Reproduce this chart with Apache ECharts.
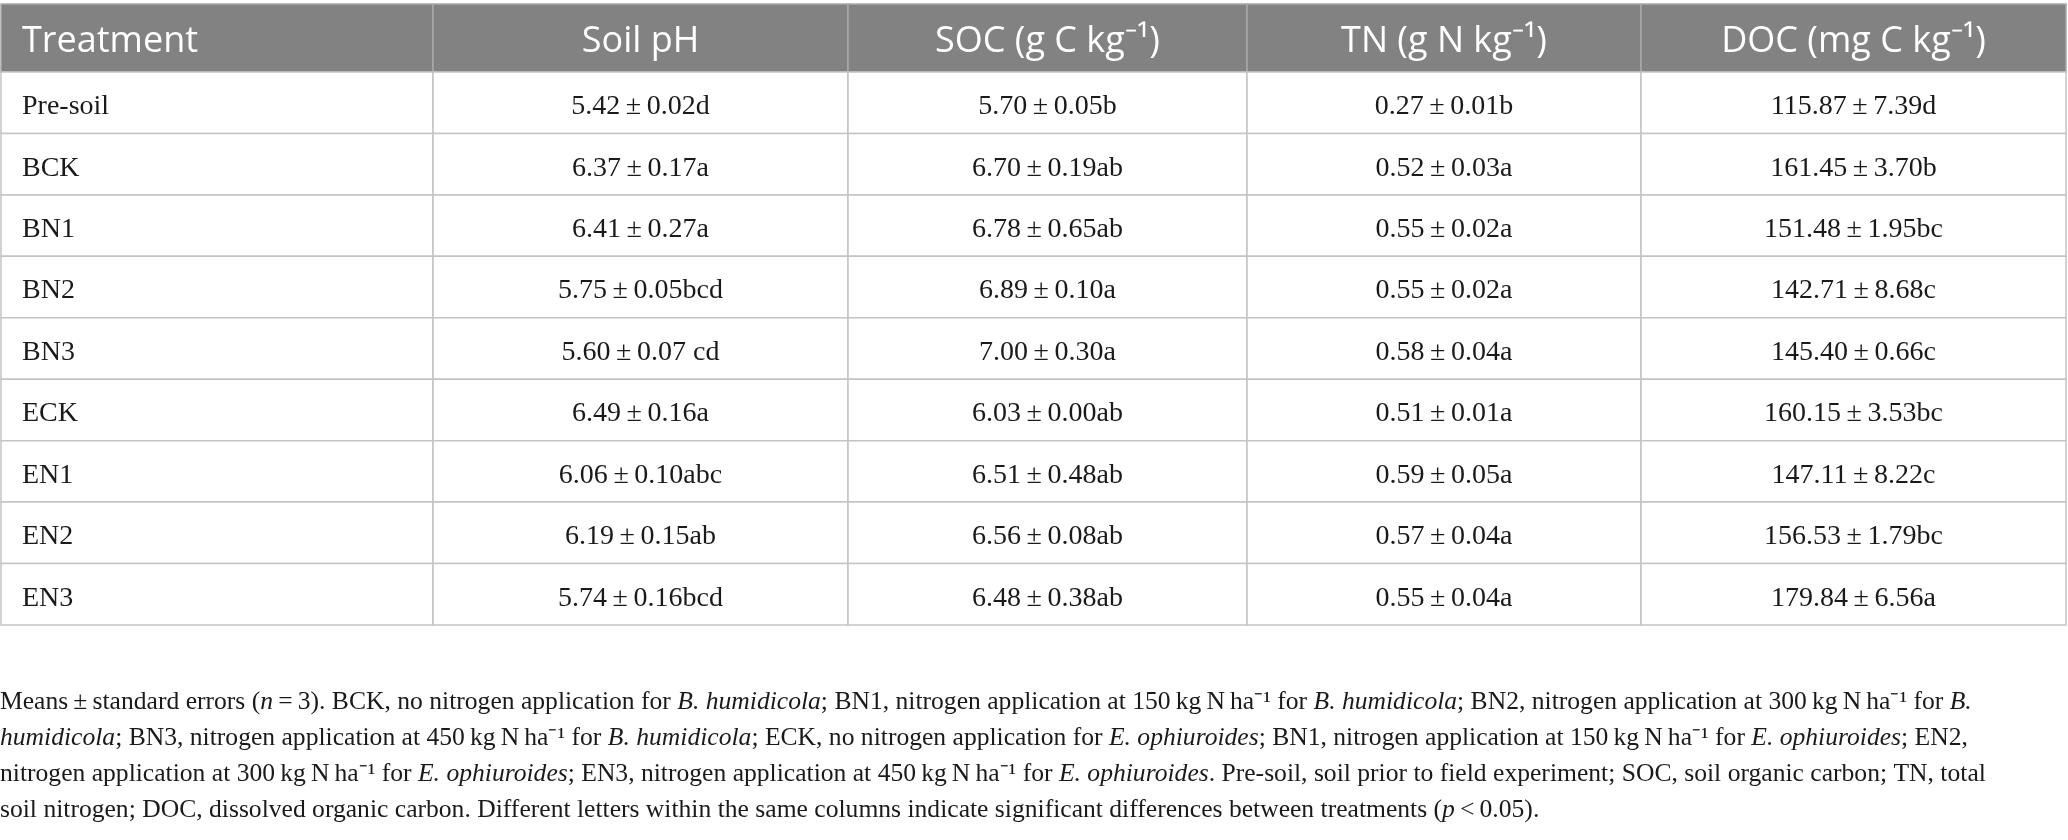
<!DOCTYPE html>
<html>
<head>
<meta charset="utf-8">
<script src="https://cdn.jsdelivr.net/npm/echarts@6/dist/echarts.min.js"></script>
<style>
html, body { margin: 0; padding: 0; background: #fff; }
#main { width: 2068px; height: 840px; }
</style>
</head>
<body>
<div id="main"></div>
<script>
// table content
var headers = ['Treatment', 'Soil pH', 'SOC (g C kg\u207B\u00B9)', 'TN (g N kg\u207B\u00B9)', 'DOC (mg C kg\u207B\u00B9)'];
var treatments = ['Pre-soil', 'BCK', 'BN1', 'BN2', 'BN3', 'ECK', 'EN1', 'EN2', 'EN3'];
var soilPH = ['5.42±0.02d', '6.37±0.17a', '6.41±0.27a', '5.75±0.05bcd', '5.60±0.07 cd', '6.49±0.16a', '6.06±0.10abc', '6.19±0.15ab', '5.74±0.16bcd'];
var soc = ['5.70±0.05b', '6.70±0.19ab', '6.78±0.65ab', '6.89±0.10a', '7.00±0.30a', '6.03±0.00ab', '6.51±0.48ab', '6.56±0.08ab', '6.48±0.38ab'];
var tn = ['0.27±0.01b', '0.52±0.03a', '0.55±0.02a', '0.55±0.02a', '0.58±0.04a', '0.51±0.01a', '0.59±0.05a', '0.57±0.04a', '0.55±0.04a'];
var doc = ['115.87±7.39d', '161.45±3.70b', '151.48±1.95bc', '142.71±8.68c', '145.40±0.66c', '160.15±3.53bc', '147.11±8.22c', '156.53±1.79bc', '179.84±6.56a'];

// footnote lines, {i|..} = italic
var notes = [
    'Means\u2009±\u2009standard errors ({i|n}\u2009=\u20093). BCK, no nitrogen application for {i|B. humidicola}; BN1, nitrogen application at 150\u2009kg\u2009N\u2009ha\u207B\u00B9 for {i|B. humidicola}; BN2, nitrogen application at 300\u2009kg\u2009N\u2009ha\u207B\u00B9 for {i|B.}',
    '{i|humidicola}; BN3, nitrogen application at 450\u2009kg\u2009N\u2009ha\u207B\u00B9 for {i|B. humidicola}; ECK, no nitrogen application for {i|E. ophiuroides}; BN1, nitrogen application at 150\u2009kg\u2009N\u2009ha\u207B\u00B9 for {i|E. ophiuroides}; EN2,',
    'nitrogen application at 300\u2009kg\u2009N\u2009ha\u207B\u00B9 for {i|E. ophiuroides}; EN3, nitrogen application at 450\u2009kg\u2009N\u2009ha\u207B\u00B9 for {i|E. ophiuroides}. Pre-soil, soil prior to field experiment; SOC, soil organic carbon; TN, total',
    'soil nitrogen; DOC, dissolved organic carbon. Different letters within the same columns indicate significant differences between treatments ({i|p}\u2009<\u20090.05).'
];

// layout (pixels on the hidden value axes)
var colEdges = [1, 433, 848, 1247, 1641, 2066];
var rowEdges = [4, 72];
for (var k = 1; k <= treatments.length; k++) {
    rowEdges.push(72 + k * 61.44);
}
var noteY = [704, 740, 776, 812];

var columns = [treatments, soilPH, soc, tn, doc];

var cells = [];
for (var c = 0; c < headers.length; c++) {
    cells.push([c, 0, headers[c]]);
    for (var r = 0; r < treatments.length; r++) {
        cells.push([c, r + 1, columns[c][r].replace('±', '\u2009±\u2009')]);
    }
}

function renderCell(params, api) {
    var c = api.value(0), r = api.value(1);
    var text = cells[params.dataIndex][2];
    var p0 = api.coord([colEdges[c], rowEdges[r]]);
    var p1 = api.coord([colEdges[c + 1], rowEdges[r + 1]]);
    var isHead = r === 0;
    var tx = c === 0 ? p0[0] + 21 : (p0[0] + p1[0]) / 2;
    var ty = (p0[1] + p1[1]) / 2 + (isHead ? 4 : 4);
    return {
        type: 'group',
        children: [{
            type: 'rect',
            shape: { x: p0[0], y: p0[1], width: p1[0] - p0[0], height: p1[1] - p0[1] },
            style: {
                fill: isHead ? '#818281' : '#fff',
                stroke: isHead ? '#a9a9a9' : '#c4c4c4',
                lineWidth: 1.5
            }
        }, {
            type: 'text',
            x: tx,
            y: ty,
            style: {
                text: text,
                fill: isHead ? '#fff' : '#1a1a1a',
                font: isHead ? '36px "Open Sans"' : '28px "Liberation Serif"',
                align: c === 0 ? 'left' : 'center',
                verticalAlign: 'middle'
            }
        }]
    };
}

var chart = echarts.init(document.getElementById('main'));

var graphics = [];
for (var n = 0; n < notes.length; n++) {
    graphics.push({
        type: 'text',
        left: 0,
        top: noteY[n] - 15,
        style: {
            text: notes[n],
            fill: '#1a1a1a',
            font: '25.6px "Liberation Serif"',
            rich: {
                i: { fontStyle: 'italic', fontSize: 25.6, fontFamily: 'Liberation Serif', fill: '#1a1a1a' }
            }
        }
    });
}

var option = {
    animation: false,
    backgroundColor: '#fff',
    grid: { left: 0, right: 0, top: 0, bottom: 0 },
    xAxis: { type: 'value', min: 0, max: 2068, show: false },
    yAxis: { type: 'value', min: 0, max: 840, inverse: true, show: false },
    graphic: graphics,
    series: [{
        type: 'custom',
        renderItem: renderCell,
        data: cells.map(function (d) { return [d[0], d[1]]; }),
        silent: true
    }]
};
chart.setOption(option);
</script>
</body>
</html>
